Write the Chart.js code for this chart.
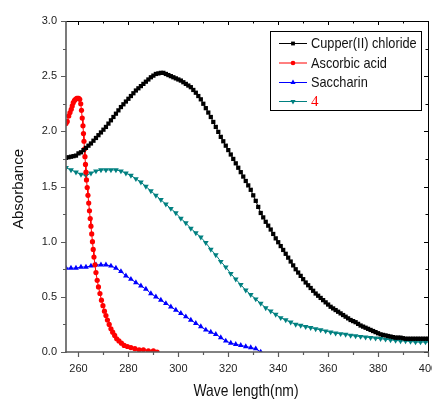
<!DOCTYPE html>
<html><head><meta charset="utf-8">
<script src="https://cdn.jsdelivr.net/npm/chart.js@4.4.1/dist/chart.umd.min.js"></script>
<style>html,body{margin:0;padding:0;background:#fff;}canvas{display:block;}</style>
</head><body>
<canvas id="c" width="432" height="399"></canvas>
<script>
// ---- data ----
const seriesNames = ['Cupper(II) chloride', 'Ascorbic acid', 'Saccharin', '4'];
const xTickVals = [260, 280, 300, 320, 340, 360, 380, 400];
const xMinorVals = [270, 290, 310, 330, 350, 370, 390];
const yTickVals = [0, 0.5, 1.0, 1.5, 2.0, 2.5, 3.0];
const yMinorVals = [0.25, 0.75, 1.25, 1.75, 2.25, 2.75];

// 1 nm wavelength grid for copper(II) chloride
const wl1 = [255,256,257,258,259,260,261,262,263,264,265,266,267,268,269,270,271,272,273,274,
  275,276,277,278,279,280,281,282,283,284,285,286,287,288,289,290,291,292,293,294,
  295,296,297,298,299,300,301,302,303,304,305,306,307,308,309,310,311,312,313,314,
  315,316,317,318,319,320,321,322,323,324,325,326,327,328,329,330,331,332,333,334,
  335,336,337,338,339,340,341,342,343,344,345,346,347,348,349,350,351,352,353,354,
  355,356,357,358,359,360,361,362,363,364,365,366,367,368,369,370,371,372,373,374,
  375,376,377,378,379,380,381,382,383,384,385,386,387,388,389,390,391,392,393,394,
  395,396,397,398,399,400,401];
const cuCl2 = [1.76,1.765,1.77,1.775,1.78,1.80,1.81,1.83,1.85,1.87,1.89,1.915,1.94,1.965,1.99,2.015,2.04,2.07,2.10,2.13,
  2.16,2.19,2.22,2.245,2.27,2.295,2.32,2.345,2.37,2.39,2.41,2.43,2.45,2.47,2.49,2.505,2.52,2.525,2.53,2.53,
  2.52,2.51,2.50,2.49,2.48,2.47,2.46,2.445,2.43,2.415,2.40,2.375,2.35,2.32,2.29,2.25,2.21,2.17,2.13,2.085,
  2.04,1.995,1.95,1.91,1.87,1.83,1.79,1.75,1.71,1.67,1.63,1.59,1.55,1.51,1.47,1.42,1.37,1.315,1.26,1.22,
  1.18,1.145,1.11,1.07,1.03,0.995,0.96,0.925,0.89,0.855,0.82,0.785,0.75,0.72,0.69,0.66,0.63,0.605,0.58,0.555,
  0.53,0.51,0.49,0.47,0.45,0.43,0.41,0.395,0.38,0.365,0.35,0.335,0.32,0.305,0.29,0.28,0.27,0.255,0.24,0.23,
  0.22,0.21,0.20,0.19,0.18,0.17,0.16,0.155,0.15,0.145,0.14,0.135,0.13,0.13,0.13,0.125,0.12,0.12,0.12,0.12,
  0.12,0.12,0.12,0.12,0.12,0.12,0.12];

// 2 nm wavelength grid for saccharin and compound 4
const wl2 = [255,257,259,261,263,265,267,269,271,273,275,277,279,281,283,285,287,289,291,293,
  295,297,299,301,303,305,307,309,311,313,315,317,319,321,323,325,327,329,331,333,
  335,337,339,341,343,345,347,349,351,353,355,357,359,361,363,365,367,369,371,373,
  375,377,379,381,383,385,387,389,391,393,395,397,399,401];
const comp4 = [1.67,1.65,1.63,1.61,1.60,1.62,1.64,1.65,1.65,1.65,1.65,1.64,1.62,1.60,1.57,1.54,1.50,1.46,1.42,1.38,
  1.34,1.30,1.26,1.21,1.17,1.12,1.08,1.04,0.99,0.93,0.88,0.82,0.77,0.71,0.66,0.61,0.56,0.52,0.48,0.44,
  0.40,0.37,0.34,0.31,0.29,0.27,0.25,0.24,0.23,0.22,0.21,0.20,0.19,0.18,0.17,0.165,0.16,0.15,0.145,0.14,
  0.135,0.13,0.125,0.12,0.115,0.11,0.105,0.10,0.10,0.095,0.09,0.09,0.09,0.09];
const saccharin = [0.76,0.76,0.76,0.77,0.77,0.78,0.79,0.79,0.79,0.78,0.76,0.73,0.69,0.66,0.63,0.60,0.57,0.53,0.50,0.47,
  0.44,0.41,0.38,0.35,0.32,0.29,0.26,0.23,0.20,0.18,0.16,0.13,0.10,0.08,0.07,0.06,0.05,0.04,0.03,0.00];

// ascorbic acid
const ascWl = [255,255.5,256.1,256.6,257.1,257.5,257.9,258.4,258.8,259.3,259.7,260.1,260.5,260.9,261.2,261.5,261.8,262.0,262.2,262.4,
  262.6,262.8,263.0,263.2,263.5,263.8,264.1,264.4,264.7,265.0,265.3,265.6,265.9,266.2,266.6,267.0,267.5,268.0,268.6,269.2,
  269.8,270.4,271.0,271.6,272.3,273.0,273.7,274.5,275.3,276.2,277.2,278.3,279.6,281.0,282.6,284.3,286.0,288.0,290.0,291.5];
const ascorbic = [2.07,2.09,2.14,2.17,2.20,2.23,2.26,2.28,2.29,2.30,2.30,2.30,2.29,2.25,2.19,2.12,2.05,1.98,1.91,1.84,
  1.77,1.70,1.63,1.56,1.49,1.42,1.35,1.28,1.21,1.14,1.07,1.00,0.93,0.86,0.79,0.72,0.65,0.59,0.53,0.47,
  0.42,0.37,0.33,0.29,0.25,0.21,0.18,0.15,0.12,0.10,0.08,0.06,0.05,0.04,0.03,0.02,0.02,0.01,0.01,0.00];

// ---- build ----
const pts = (xs, ys) => ys.map((y, i) => ({x: xs[i], y: y}));
const colors = ['#000000', '#ff0000', '#0000ff', '#008080'];
const styles = ['rect', 'circle', 'triangle', 'triangle'];
const rots = [0, 0, 0, 180];
const radii = [3.0, 2.6, 3.3, 3.3];
const dataArr = [pts(wl1, cuCl2), pts(ascWl, ascorbic), pts(wl2, saccharin), pts(wl2, comp4)];

const datasets = seriesNames.map((n, i) => ({
  label: n, data: dataArr[i], borderColor: colors[i], backgroundColor: colors[i],
  borderWidth: 1, pointStyle: styles[i], pointRotation: rots[i], pointRadius: radii[i],
  pointBorderWidth: 0, tension: 0, fill: false, order: i
}));

const decor = {
  id: 'decor',
  afterDraw(chart) {
    const ctx = chart.ctx, a = chart.chartArea, xs = chart.scales.x, ys = chart.scales.y;
    ctx.save();
    // top & right frame
    ctx.strokeStyle = '#000'; ctx.lineWidth = 1;
    ctx.beginPath();
    ctx.moveTo(a.left, a.top + 0.5); ctx.lineTo(a.right + 1, a.top + 0.5);
    ctx.moveTo(a.right + 0.5, a.top); ctx.lineTo(a.right + 0.5, a.bottom);
    ctx.stroke();
    ctx.beginPath();
    xTickVals.forEach(v => { const p = Math.round(xs.getPixelForValue(v)) + 0.5; ctx.moveTo(p, a.top); ctx.lineTo(p, a.top + 4); });
    xMinorVals.forEach(v => { const p = Math.round(xs.getPixelForValue(v)) + 0.5; ctx.moveTo(p, a.top); ctx.lineTo(p, a.top + 2.5); });
    yTickVals.forEach(v => { const p = Math.round(ys.getPixelForValue(v)) + 0.5; ctx.moveTo(a.right, p); ctx.lineTo(a.right - 4, p); });
    yMinorVals.forEach(v => { const p = Math.round(ys.getPixelForValue(v)) + 0.5; ctx.moveTo(a.right, p); ctx.lineTo(a.right - 2.5, p); });
    ctx.stroke();
    // left & bottom axes (grey, thicker)
    ctx.strokeStyle = '#5a5a5a'; ctx.lineWidth = 1.6;
    ctx.beginPath();
    ctx.moveTo(a.left, a.top); ctx.lineTo(a.left, a.bottom + 1);
    ctx.moveTo(a.left - 1, a.bottom); ctx.lineTo(a.right + 1, a.bottom);
    ctx.stroke();
    ctx.lineWidth = 1.2;
    ctx.beginPath();
    xTickVals.forEach(v => { const p = Math.round(xs.getPixelForValue(v)) + 0.5; ctx.moveTo(p, a.bottom); ctx.lineTo(p, a.bottom + 5); });
    xMinorVals.forEach(v => { const p = Math.round(xs.getPixelForValue(v)) + 0.5; ctx.moveTo(p, a.bottom); ctx.lineTo(p, a.bottom + 3); });
    yTickVals.forEach(v => { const p = Math.round(ys.getPixelForValue(v)) + 0.5; ctx.moveTo(a.left, p); ctx.lineTo(a.left - 5, p); });
    yMinorVals.forEach(v => { const p = Math.round(ys.getPixelForValue(v)) + 0.5; ctx.moveTo(a.left, p); ctx.lineTo(a.left - 3, p); });
    ctx.stroke();

    // axis titles
    ctx.fillStyle = '#111';
    ctx.textBaseline = 'middle';
    ctx.save();
    ctx.translate(246, 391); ctx.scale(0.84, 1);
    ctx.textAlign = 'center';
    ctx.font = '16.5px "Liberation Sans", Arial, sans-serif';
    ctx.fillText('Wave length(nm)', 0, 0);
    ctx.restore();
    ctx.save();
    ctx.translate(19, 189); ctx.rotate(-Math.PI / 2);
    ctx.textAlign = 'center';
    ctx.font = '15px "Liberation Sans", Arial, sans-serif';
    ctx.fillText('Absorbance', 0, 0);
    ctx.restore();

    // legend
    const lx = 270.5, ly = 31.5, lw = 151, lh = 79;
    ctx.fillStyle = '#fff';
    ctx.fillRect(lx, ly, lw, lh);
    ctx.strokeStyle = '#000'; ctx.lineWidth = 1;
    ctx.strokeRect(lx, ly, lw, lh);
    const rowY = [43.5, 63, 82.5, 101.5];
    chart.data.datasets.forEach((ds, i) => {
      const y = rowY[i];
      ctx.strokeStyle = ds.borderColor; ctx.lineWidth = 1;
      ctx.beginPath(); ctx.moveTo(279, y); ctx.lineTo(307, y); ctx.stroke();
      ctx.fillStyle = ds.backgroundColor;
      Chart.helpers.drawPoint(ctx, {pointStyle: ds.pointStyle, radius: ds.pointRadius * 0.9, rotation: ds.pointRotation, borderWidth: 0}, 293, y);
      ctx.save();
      ctx.translate(311, y + 0.5);
      ctx.textAlign = 'left'; ctx.textBaseline = 'middle';
      if (i === 3) {
        ctx.fillStyle = '#ff0000';
        ctx.font = '15px "Liberation Serif", "Times New Roman", serif';
      } else {
        ctx.scale(0.88, 1);
        ctx.fillStyle = '#111';
        ctx.font = '14.5px "Liberation Sans", Arial, sans-serif';
      }
      ctx.fillText(ds.label, 0, 0);
      ctx.restore();
    });
    ctx.restore();
  }
};

new Chart(document.getElementById('c'), {
  type: 'line',
  data: { datasets: datasets },
  plugins: [decor],
  options: {
    responsive: false, animation: false, devicePixelRatio: 1,
    layout: { padding: { left: 0, right: 3, top: 21, bottom: 0 } },
    plugins: { legend: { display: false }, tooltip: { enabled: false } },
    scales: {
      x: {
        type: 'linear', min: 255, max: 400,
        afterBuildTicks: s => { s.ticks = xTickVals.map(v => ({ value: v })); },
        afterFit: s => { s.height = 47; s.paddingLeft = 0; s.paddingRight = 0; },
        grid: { display: false, drawTicks: false },
        border: { display: false },
        ticks: { padding: 10, color: '#222', maxRotation: 0, autoSkip: false,
          font: { family: '"Liberation Sans", Arial, sans-serif', size: 11 },
          callback: v => String(v) }
      },
      y: {
        type: 'linear', min: 0, max: 3,
        afterBuildTicks: s => { s.ticks = yTickVals.map(v => ({ value: v })); },
        afterFit: s => { s.width = 66; s.paddingTop = 0; s.paddingBottom = 0; },
        grid: { display: false, drawTicks: false },
        border: { display: false },
        ticks: { padding: 9, color: '#222', autoSkip: false,
          font: { family: '"Liberation Sans", Arial, sans-serif', size: 11 },
          callback: v => Number(v).toFixed(1) }
      }
    }
  }
});
</script>
</body></html>
